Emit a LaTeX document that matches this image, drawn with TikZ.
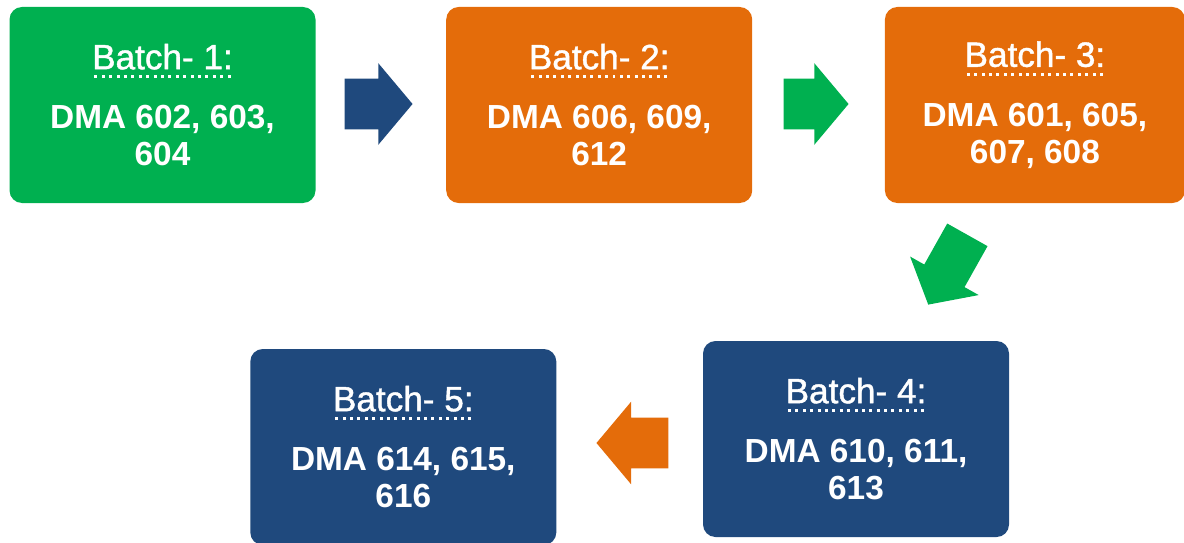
\documentclass[tikz,border=0pt]{standalone}
\usepackage{fontspec}
\setmainfont{Liberation Sans}
\usetikzlibrary{shapes.arrows, positioning}
\definecolor{BatchGreen}{HTML}{00B050}
\definecolor{BatchOrange}{HTML}{E46C0A}
\definecolor{BatchBlue}{HTML}{1F497D}
% title with a dotted underline
\newcommand{\batchtitle}[1]{{\fontsize{20pt}{21pt}\selectfont\mdseries\addfontfeature{FakeBold=1.2}\setbox0=\hbox{#1}\rlap{\lower5pt\hbox to \wd0{\xleaders\hbox to 4.1pt{\hss\vrule width 1.7pt height 1.7pt\hss}\hfill}}\box0}\\[13pt]}
\tikzset{
    batch/.style={rounded corners=0.25cm, text=white, align=center, font=\fontsize{19pt}{21pt}\selectfont\bfseries, minimum height=3.92cm, minimum width=6.12cm, inner sep=0pt},
    blockarrow/.style={single arrow, anchor=tip, inner xsep=0pt, inner ysep=0.5cm, minimum height=1.36cm, single arrow head extend=0.31cm, single arrow tip angle=100}
}

\begin{document}
\begin{tikzpicture}
    \useasboundingbox (0,0) rectangle (23.68,-10.86);
    % top row
    \node[batch, fill=BatchGreen] (b1) at (3.25,-2.10) {\batchtitle{Batch- 1:}DMA 602, 603,\\604};
    \node[batch, fill=BatchOrange, right=2.6cm of b1] (b2) {\batchtitle{Batch- 2:}DMA 606, 609,\\612};
    \node[batch, fill=BatchOrange, minimum width=6.0cm, right=2.64cm of b2] (b3) {\batchtitle{Batch- 3:}DMA 601, 605,\\607, 608};
    % bottom row
    \node[batch, fill=BatchBlue] (b4) at (17.12,-8.78) {\batchtitle{Batch- 4:}DMA 610, 611,\\613};
    \node[batch, fill=BatchBlue, left=2.92cm of b4, yshift=-0.16cm] (b5) {\batchtitle{Batch- 5:}DMA 614, 615,\\616};

    \node[blockarrow, fill=BatchBlue] (a12) at (8.26,-2.08) {};
    \node[blockarrow, fill=BatchGreen, minimum height=1.30cm] (a23) at (16.98,-2.08) {};
    \node[blockarrow, fill=BatchGreen, minimum height=1.6cm, inner ysep=0.455cm, single arrow head extend=0.325cm, rotate=240.7] (a34) at (18.56,-6.10) {};
    \node[blockarrow, fill=BatchOrange, minimum height=1.44cm, single arrow head extend=0.32cm, rotate=180] (a45) at (11.92,-8.86) {};
\end{tikzpicture}
\end{document}
